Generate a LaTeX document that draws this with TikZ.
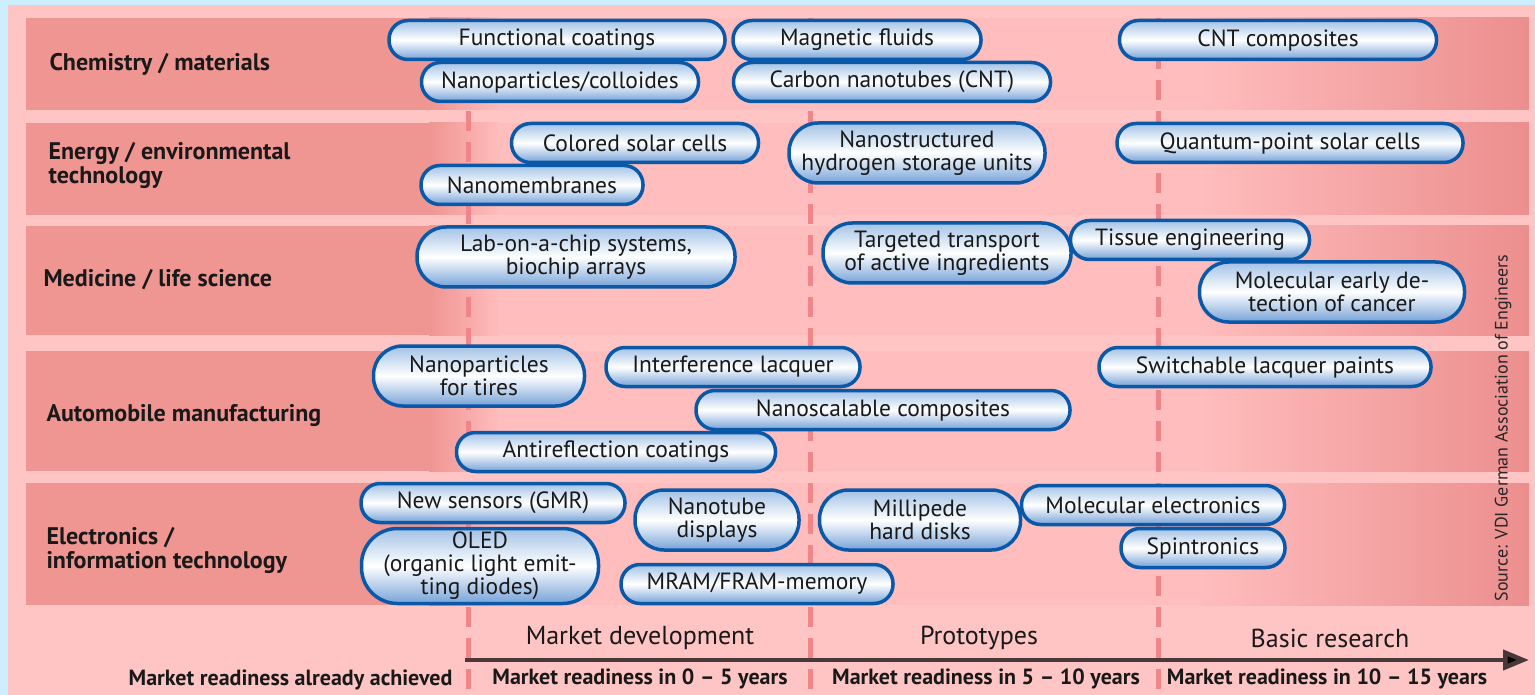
\documentclass[tikz,border=0pt]{standalone}
\usepackage{fontspec}
\setmainfont{PT Sans}
\usetikzlibrary{arrows.meta}
\definecolor{bgblue}{HTML}{CCEEFF}
\definecolor{panel}{HTML}{FFC4C4}
\definecolor{bandL}{HTML}{EF9592}
\definecolor{bandM}{HTML}{FFBDBD}
\definecolor{bandR}{HTML}{EC8E8E}
\definecolor{dashc}{HTML}{F0868A}
\definecolor{pillborder}{HTML}{0A58A8}
\definecolor{pilltop}{HTML}{A2C2E6}
\definecolor{pillbot}{HTML}{76A2D8}
\definecolor{axisc}{HTML}{4A3838}
\begin{document}
\begin{tikzpicture}[x=1pt,y=-1pt,
  pill/.style={draw=pillborder, line width=3.5pt, rounded corners=19pt,
    top color=pilltop, bottom color=pillbot, middle color=white,
    align=center, font=\fontsize{23.5}{23}\selectfont, inner sep=0pt,
    text=black!90, minimum height=39pt},
  pilltwo/.style={pill, rounded corners=29pt, minimum height=60pt},
  pillthree/.style={pill, rounded corners=36pt, minimum height=75pt},
  rowlabel/.style={anchor=west, align=left, font=\bfseries\fontsize{24}{24}\selectfont, text=black!90},
  phase/.style={font=\fontsize{26}{26}\selectfont, text=black!90},
  ready/.style={font=\bfseries\fontsize{22}{22}\selectfont, text=black!90},
  divider/.style={dashc, line width=5pt, dash pattern=on 20pt off 11pt},
  axisline/.style={axisc, line width=4.5pt, -{Triangle[length=26pt,width=20pt,fill=black]}}
]
\useasboundingbox (0,0) rectangle (1535,695);
% backgrounds
\fill[bgblue] (0,0) rectangle (1535,695);
\fill[panel] (8,5) rectangle (1535,695);
% bands
\foreach \ya/\yb in {18/110, 123/215, 226/335, 351/471, 483/605}{
  \fill[bandL] (26,\ya) rectangle (430,\yb);
  \shade[left color=bandL, right color=bandM] (429,\ya) rectangle (500,\yb);
  \fill[bandM] (499,\ya) rectangle (1200,\yb);
  \shade[left color=bandM, right color=bandR] (1199,\ya) rectangle (1529,\yb);
}
% dividers
\foreach \x in {468, 810, 1158}{
  \draw[divider] (\x,18) -- (\x,695);
}
% row labels
\node[rowlabel] (r1) at (46,64) {Chemistry / materials};
\node[rowlabel] (r2) at (45,166) {Energy / environmental\\technology};
\node[rowlabel] (r3) at (40,280) {Medicine / life science};
\node[rowlabel] (r4) at (43,416) {Automobile manufacturing};
\node[rowlabel] (r5) at (43,550) {Electronics /\\information technology};
% row 1
\node[pill, minimum width=336pt] (fc) at (557,40) {Functional coatings};
\node[pill, minimum width=248pt] (mf) at (857,40) {Magnetic fluids};
\node[pill, minimum width=317pt] (cntc) at (1278,40) {CNT composites};
\node[pill, minimum width=277pt] (npc) at (560,82) {Nanoparticles/colloides};
\node[pill, minimum width=317pt] (cnt) at (892,82) {Carbon nanotubes (CNT)};
% row 2
\node[pill, minimum width=247pt] (csc) at (635,143) {Colored solar cells};
\node[pill, minimum width=222pt] (nm) at (532,185) {Nanomembranes};
\node[pilltwo, minimum width=256pt] (hs) at (917,153) {Nanostructured\\hydrogen storage units};
\node[pill, minimum width=346pt] (qp) at (1290,143) {Quantum-point solar cells};
% row 3
\node[pilltwo, minimum width=318pt] (lab) at (576,257) {Lab-on-a-chip systems,\\biochip arrays};
\node[pilltwo, minimum width=248pt] (tt) at (947,253) {Targeted transport\\of active ingredients};
\node[pill, minimum width=239pt] (te) at (1190,240) {Tissue engineering};
\node[pilltwo, minimum width=265pt] (mol) at (1332,292) {Molecular early de-\\tection of cancer};
% row 4
\node[pilltwo, minimum width=211pt] (npt) at (479,376) {Nanoparticles\\for tires};
\node[pill, minimum width=254pt] (il) at (733,367) {Interference lacquer};
\node[pill, minimum width=332pt] (slp) at (1265,367) {Switchable lacquer paints};
\node[pill, minimum width=374pt] (nsc) at (883,410) {Nanoscalable composites};
\node[pill, minimum width=319pt] (arc) at (616,452) {Antireflection coatings};
% row 5
\node[pill, minimum width=264pt] (ns) at (493,503) {New sensors (GMR)};
\node[pillthree, minimum width=237pt] (oled) at (480,566) {OLED\\(organic light emit-\\ting diodes)};
\node[pilltwo, minimum width=164pt] (ntd) at (717,520) {Nanotube\\displays};
\node[pilltwo, minimum width=201pt] (mhd) at (920,520) {Millipede\\hard disks};
\node[pill, minimum width=263pt] (me) at (1153,505) {Molecular electronics};
\node[pill, minimum width=164pt] (sp) at (1203,548) {Spintronics};
\node[pill, minimum width=272pt] (mram) at (757,584) {MRAM/FRAM-memory};
% source
\node[rotate=90, font=\fontsize{18}{18}\selectfont, text=black!85] (src) at (1503,428) {Source: VDI German Association of Engineers};
% axis
\coordinate (axs) at (465,660);
\coordinate (axe) at (1529,660);
\draw[axisline] (axs) -- (axe);
\node[phase] (p1) at (640,638) {Market development};
\node[phase] (p2) at (979,638) {Prototypes};
\node[phase] (p3) at (1330,638) {Basic research};
\node[ready, anchor=east] (m0) at (456,680) {Market readiness already achieved};
\node[ready] (m1) at (640,679) {Market readiness in 0 -- 5 years};
\node[ready] (m2) at (986,679) {Market readiness in 5 -- 10 years};
\node[ready] (m3) at (1327,679) {Market readiness in 10 -- 15 years};
\end{tikzpicture}
\end{document}
